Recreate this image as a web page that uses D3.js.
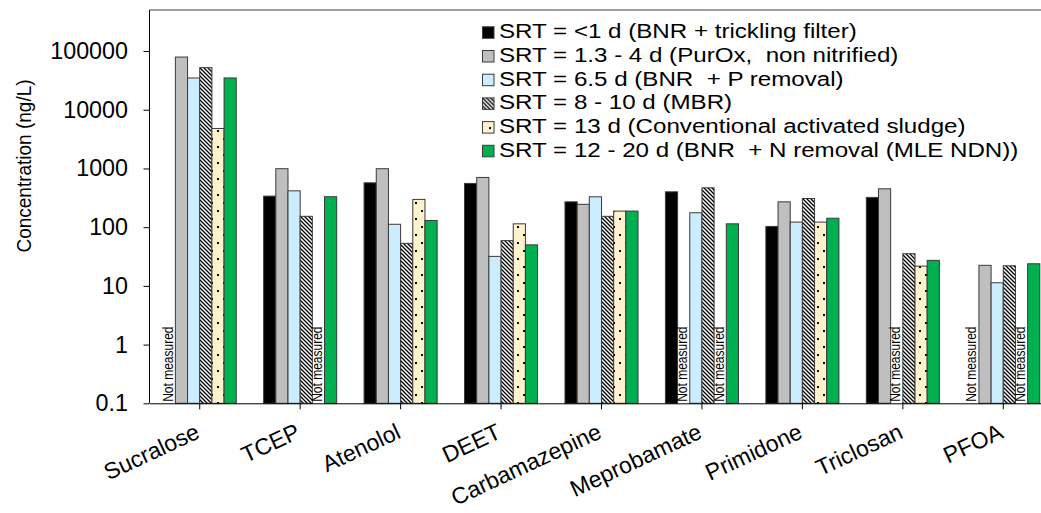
<!DOCTYPE html>
<html>
<head>
<meta charset="utf-8">
<script src="https://cdn.jsdelivr.net/npm/d3@7/dist/d3.min.js"></script>
<style>
  html, body { margin: 0; padding: 0; background: #fff; overflow: hidden; }
  svg { display: block; font-family: "Liberation Sans", Arial, sans-serif; }
  svg text { white-space: pre; }
</style>
</head>
<body>
<svg id="chart" width="1041" height="513"></svg>
<script>
// Compounds on the category axis
const categories = ["Sucralose", "TCEP", "Atenolol", "DEET", "Carbamazepine",
                    "Meprobamate", "Primidone", "Triclosan", "PFOA"];

// Legend entries, one per treatment process
const seriesNames = [
  "SRT = <1 d (BNR + trickling filter)",
  "SRT = 1.3 - 4 d (PurOx,  non nitrified)",
  "SRT = 6.5 d (BNR  + P removal)",
  "SRT = 8 - 10 d (MBR)",
  "SRT = 13 d (Conventional activated sludge)",
  "SRT = 12 - 20 d (BNR  + N removal (MLE NDN))"
];

// Concentrations in ng/L (null = not measured)
const srtUnder1   = [null, 338, 569, 556, 270, 400, 103, 321, null];
const srt1to4     = [79000, 990, 990, 703, 245, null, 270, 450, 22.4];
const srt6_5      = [34800, 416, 112, 31.8, 329, 176, 122, null, 11.3];
const srt8to10    = [52100, 153, 53, 59, 153, 468, 308, 35.3, 22];
const srt13       = [4800, null, 297, 114, 188, null, 122, 21.7, null];
const srt12to20   = [34800, 330, 130, 50, 188, 114, 142, 27.2, 23.8];

const seriesValues = [srtUnder1, srt1to4, srt6_5, srt8to10, srt13, srt12to20];

// Y-axis tick values
const yTicks = [0.1, 1, 10, 100, 1000, 10000, 100000];
const notMeasuredText = "Not measured";
const yTitle = "Concentration (ng/L)";

// Horizontal glyph stretch used for the legend and small notes
const wide = 1.15;

const svg = d3.select("#chart");
const defs = svg.append("defs");

// Diagonal hatch fill
const hatch = defs.append("pattern")
  .attr("id", "hatch").attr("patternUnits", "userSpaceOnUse")
  .attr("width", 4).attr("height", 4);
hatch.append("rect").attr("width", 4).attr("height", 4).attr("fill", "#fff");
hatch.append("path")
  .attr("d", "M-1,-1 L5,5 M-1,3 L1,5 M3,-1 L5,1")
  .attr("stroke", "#000").attr("stroke-width", 1.3);

// Sparse dotted beige fill
const dots = defs.append("pattern")
  .attr("id", "dots").attr("patternUnits", "userSpaceOnUse")
  .attr("width", 12).attr("height", 16);
dots.append("rect").attr("width", 12).attr("height", 16).attr("fill", "#FFF2CC");
dots.append("rect").attr("x", 1).attr("y", 2).attr("width", 2).attr("height", 2).attr("fill", "#000");
dots.append("rect").attr("x", 7).attr("y", 10).attr("width", 2).attr("height", 2).attr("fill", "#000");

const fills = ["#000000", "#BFBFBF", "#CCECFF", "url(#hatch)", "url(#dots)", "#00B050"];

// Plot area
const plotLeft = 149.5, plotRight = 1053.5, plotTop = 10, plotBottom = 403.3;

const x = d3.scaleBand().domain(categories).range([plotLeft, plotRight]).padding(0);
const xs = d3.scaleBand().domain(d3.range(seriesValues.length))
  .range([0, x.bandwidth()]).paddingInner(0).paddingOuter(1.125);
const y = d3.scaleLog().domain([0.1, 500000]).range([plotBottom, plotTop]);

// Frame top line
svg.append("line").attr("x1", plotLeft).attr("x2", 1041).attr("y1", plotTop).attr("y2", plotTop)
  .attr("stroke", "#404040").attr("stroke-width", 1);

// Bars and "Not measured" notes
seriesValues.forEach((vals, si) => {
  const g = svg.append("g");
  categories.forEach((c, ci) => {
    const v = vals[ci];
    const x0 = x(c) + xs(si);
    if (v == null) {
      g.append("text")
        .attr("transform", `translate(${x0 + xs.bandwidth() / 2 + 3.5},${plotBottom - 1.5}) rotate(-90) scale(1,${wide})`)
        .attr("font-size", 12).attr("fill", "#000")
        .text(notMeasuredText);
    } else {
      g.append("rect")
        .attr("x", x0).attr("width", xs.bandwidth())
        .attr("y", y(v)).attr("height", plotBottom - y(v))
        .attr("fill", fills[si])
        .attr("stroke", "#3a3a3a").attr("stroke-width", 1);
    }
  });
});

// Y axis
const yAxis = d3.axisLeft(y).tickValues(yTicks)
  .tickFormat(d => d3.format("~f")(d))
  .tickSize(6).tickPadding(15);
const yg = svg.append("g").attr("transform", `translate(${plotLeft},0)`).call(yAxis);
yg.select(".domain").attr("d", `M0,${plotTop}V${plotBottom}`).attr("stroke", "#000");
yg.selectAll(".tick line").attr("stroke", "#000");
yg.selectAll("text")
  .attr("font-size", 23.3).attr("fill", "#000")
  .attr("font-family", "'Liberation Sans', Arial, sans-serif")
  .attr("x", -21.5);

// X axis
const xAxis = d3.axisBottom(x).tickSize(6).tickSizeOuter(0).tickFormat("");
const xg = svg.append("g").attr("transform", `translate(0,${plotBottom})`).call(xAxis);
xg.select(".domain").attr("stroke", "#000");
xg.selectAll(".tick line").attr("stroke", "#000");

svg.append("g").selectAll("text").data(categories).join("text")
  .attr("transform", d => `translate(${x(d) + x.bandwidth() / 2 + 1.5},${plotBottom + 34}) rotate(-25)`)
  .attr("text-anchor", "end").attr("font-size", 23).attr("fill", "#000")
  .text(d => d);

// Y-axis title
svg.append("text")
  .attr("transform", `translate(31,166) rotate(-90) scale(1,1.1)`)
  .attr("text-anchor", "middle").attr("font-size", 19).attr("fill", "#000")
  .text(yTitle);

// Legend
const legend = svg.append("g").attr("transform", "translate(482,38.3)");
seriesNames.forEach((name, i) => {
  const row = legend.append("g").attr("transform", `translate(0,${i * 23.7})`);
  row.append("rect").attr("x", 0.5).attr("y", -11.5).attr("width", 11.5).attr("height", 11.5)
    .attr("fill", fills[i]).attr("stroke", "#3a3a3a").attr("stroke-width", 1);
  row.append("text").attr("transform", `translate(17,0) scale(${wide},1)`)
    .attr("font-size", 21).attr("fill", "#000").text(name);
});
</script>
</body>
</html>
